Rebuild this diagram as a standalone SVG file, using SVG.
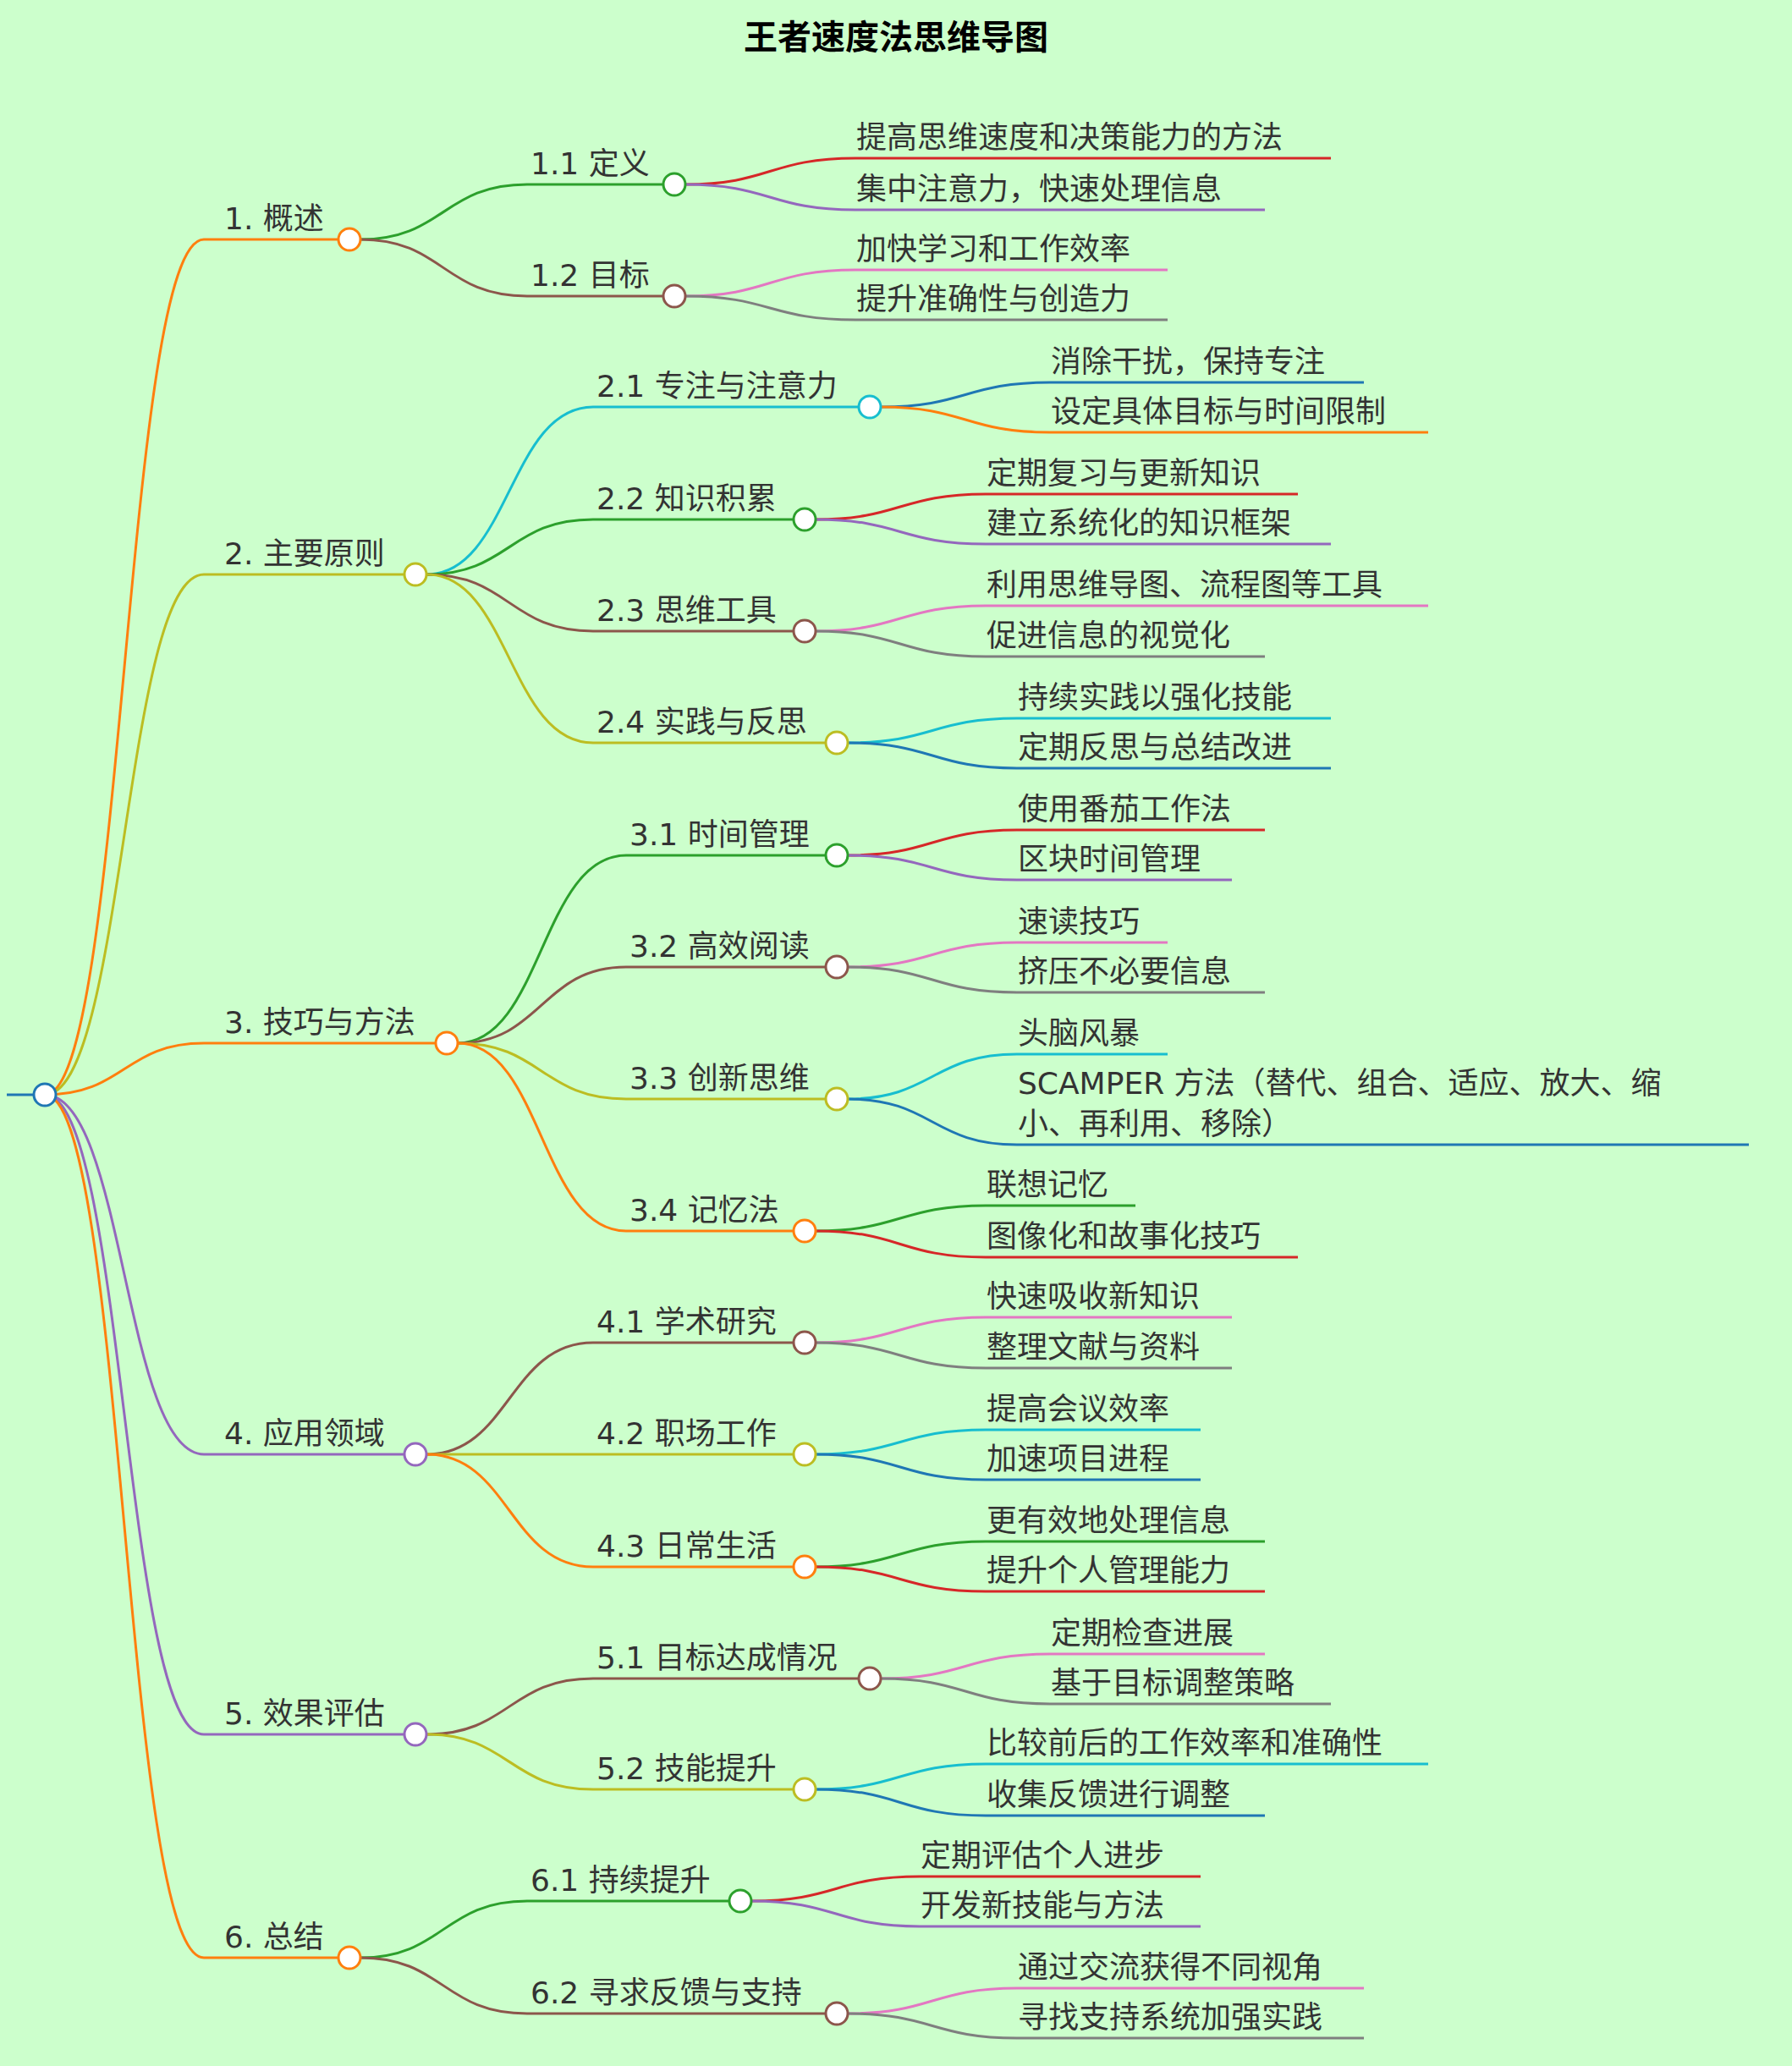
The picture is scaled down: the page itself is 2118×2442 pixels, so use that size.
<svg xmlns="http://www.w3.org/2000/svg" width="2118" height="2442" viewBox="0 0 2118 2442">
<style>
text{font-family:"DejaVu Sans","Noto Sans CJK SC",sans-serif;font-size:36px;fill:#333}
.t{font-family:"Noto Sans CJK SC",sans-serif;font-weight:bold;font-size:40px;fill:#000}
#links path{fill:none;stroke-width:3}
circle{fill:#fff;stroke-width:3}
.o{stroke:#ff7f0e}.y{stroke:#bcbd22}.g{stroke:#2ca02c}.b{stroke:#8c564b}.r{stroke:#d62728}.p{stroke:#9467bd}.k{stroke:#e377c2}.a{stroke:#7f7f7f}.c{stroke:#17becf}.u{stroke:#1f77b4}
</style>
<rect width="2118" height="2442" fill="#ccffcc"/>
<text class="t" x="1059" y="58" text-anchor="middle">王者速度法思维导图</text>
<g id="links">
<path class="u" d="M8,1294 L53,1294"/>
<path class="o" d="M53,1294 C147,1294 147,283 241,283 L400,283"/>
<path class="y" d="M53,1294 C147,1294 147,679 241,679 L478,679"/>
<path class="o" d="M53,1294 C147,1294 147,1233 241,1233 L515,1233"/>
<path class="p" d="M53,1294 C147,1294 147,1719 241,1719 L478,1719"/>
<path class="p" d="M53,1294 C147,1294 147,2050 241,2050 L478,2050"/>
<path class="o" d="M53,1294 C147,1294 147,2314 241,2314 L400,2314"/>
<path class="g" d="M426,283 C524,283 524,218 623,218 L784,218"/>
<path class="b" d="M426,283 C524,283 524,350 623,350 L784,350"/>
<path class="c" d="M504,679 C602,679 602,481 701,481 L1015,481"/>
<path class="g" d="M504,679 C602,679 602,614 701,614 L938,614"/>
<path class="b" d="M504,679 C602,679 602,746 701,746 L938,746"/>
<path class="y" d="M504,679 C602,679 602,878 701,878 L976,878"/>
<path class="g" d="M541,1233 C640,1233 640,1011 740,1011 L976,1011"/>
<path class="b" d="M541,1233 C640,1233 640,1143 740,1143 L976,1143"/>
<path class="y" d="M541,1233 C640,1233 640,1299 740,1299 L976,1299"/>
<path class="o" d="M541,1233 C640,1233 640,1455 740,1455 L938,1455"/>
<path class="b" d="M504,1719 C602,1719 602,1587 701,1587 L938,1587"/>
<path class="y" d="M504,1719 L938,1719"/>
<path class="o" d="M504,1719 C602,1719 602,1852 701,1852 L938,1852"/>
<path class="b" d="M504,2050 C602,2050 602,1984 701,1984 L1015,1984"/>
<path class="y" d="M504,2050 C602,2050 602,2115 701,2115 L938,2115"/>
<path class="g" d="M426,2314 C524,2314 524,2247 623,2247 L862,2247"/>
<path class="b" d="M426,2314 C524,2314 524,2380 623,2380 L976,2380"/>
<path class="r" d="M810,218 C910,218 910,187 1011,187 L1573,187"/>
<path class="p" d="M810,218 C910,218 910,248 1011,248 L1495,248"/>
<path class="k" d="M810,350 C910,350 910,319 1011,319 L1380,319"/>
<path class="a" d="M810,350 C910,350 910,378 1011,378 L1380,378"/>
<path class="u" d="M1041,481 C1141,481 1141,452 1241,452 L1612,452"/>
<path class="o" d="M1041,481 C1141,481 1141,511 1241,511 L1688,511"/>
<path class="r" d="M964,614 C1064,614 1064,584 1165,584 L1534,584"/>
<path class="p" d="M964,614 C1064,614 1064,643 1165,643 L1573,643"/>
<path class="k" d="M964,746 C1064,746 1064,716 1165,716 L1688,716"/>
<path class="a" d="M964,746 C1064,746 1064,776 1165,776 L1495,776"/>
<path class="c" d="M1002,878 C1102,878 1102,849 1202,849 L1573,849"/>
<path class="u" d="M1002,878 C1102,878 1102,908 1202,908 L1573,908"/>
<path class="r" d="M1002,1011 C1102,1011 1102,981 1202,981 L1495,981"/>
<path class="p" d="M1002,1011 C1102,1011 1102,1040 1202,1040 L1456,1040"/>
<path class="k" d="M1002,1143 C1102,1143 1102,1114 1202,1114 L1380,1114"/>
<path class="a" d="M1002,1143 C1102,1143 1102,1173 1202,1173 L1495,1173"/>
<path class="c" d="M1002,1299 C1102,1299 1102,1246 1202,1246 L1380,1246"/>
<path class="u" d="M1002,1299 C1102,1299 1102,1353 1202,1353 L2067,1353"/>
<path class="g" d="M964,1455 C1064,1455 1064,1425 1165,1425 L1342,1425"/>
<path class="r" d="M964,1455 C1064,1455 1064,1486 1165,1486 L1534,1486"/>
<path class="k" d="M964,1587 C1064,1587 1064,1557 1165,1557 L1456,1557"/>
<path class="a" d="M964,1587 C1064,1587 1064,1617 1165,1617 L1456,1617"/>
<path class="c" d="M964,1719 C1064,1719 1064,1690 1165,1690 L1419,1690"/>
<path class="u" d="M964,1719 C1064,1719 1064,1749 1165,1749 L1419,1749"/>
<path class="g" d="M964,1852 C1064,1852 1064,1822 1165,1822 L1495,1822"/>
<path class="r" d="M964,1852 C1064,1852 1064,1881 1165,1881 L1495,1881"/>
<path class="k" d="M1041,1984 C1141,1984 1141,1955 1241,1955 L1495,1955"/>
<path class="a" d="M1041,1984 C1141,1984 1141,2014 1241,2014 L1573,2014"/>
<path class="c" d="M964,2115 C1064,2115 1064,2085 1165,2085 L1688,2085"/>
<path class="u" d="M964,2115 C1064,2115 1064,2146 1165,2146 L1495,2146"/>
<path class="r" d="M888,2247 C988,2247 988,2218 1087,2218 L1419,2218"/>
<path class="p" d="M888,2247 C988,2247 988,2277 1087,2277 L1419,2277"/>
<path class="k" d="M1002,2380 C1102,2380 1102,2350 1202,2350 L1612,2350"/>
<path class="a" d="M1002,2380 C1102,2380 1102,2409 1202,2409 L1612,2409"/>
</g>
<g id="root"><circle class="u" cx="53" cy="1294" r="13"/></g>
<g id="n1"><text x="265" y="271">1. 概述</text><circle class="o" cx="413" cy="283" r="13"/></g>
<g id="n2"><text x="265" y="667">2. 主要原则</text><circle class="y" cx="491" cy="679" r="13"/></g>
<g id="n3"><text x="265" y="1221">3. 技巧与方法</text><circle class="o" cx="528" cy="1233" r="13"/></g>
<g id="n4"><text x="265" y="1707">4. 应用领域</text><circle class="p" cx="491" cy="1719" r="13"/></g>
<g id="n5"><text x="265" y="2038">5. 效果评估</text><circle class="p" cx="491" cy="2050" r="13"/></g>
<g id="n6"><text x="265" y="2302">6. 总结</text><circle class="o" cx="413" cy="2314" r="13"/></g>
<g id="n11"><text x="627" y="206">1.1 定义</text><circle class="g" cx="797" cy="218" r="13"/></g>
<g id="n12"><text x="627" y="338">1.2 目标</text><circle class="b" cx="797" cy="350" r="13"/></g>
<g id="n21"><text x="705" y="469">2.1 专注与注意力</text><circle class="c" cx="1028" cy="481" r="13"/></g>
<g id="n22"><text x="705" y="602">2.2 知识积累</text><circle class="g" cx="951" cy="614" r="13"/></g>
<g id="n23"><text x="705" y="734">2.3 思维工具</text><circle class="b" cx="951" cy="746" r="13"/></g>
<g id="n24"><text x="705" y="866">2.4 实践与反思</text><circle class="y" cx="989" cy="878" r="13"/></g>
<g id="n31"><text x="744" y="999">3.1 时间管理</text><circle class="g" cx="989" cy="1011" r="13"/></g>
<g id="n32"><text x="744" y="1131">3.2 高效阅读</text><circle class="b" cx="989" cy="1143" r="13"/></g>
<g id="n33"><text x="744" y="1287">3.3 创新思维</text><circle class="y" cx="989" cy="1299" r="13"/></g>
<g id="n34"><text x="744" y="1443">3.4 记忆法</text><circle class="o" cx="951" cy="1455" r="13"/></g>
<g id="n41"><text x="705" y="1575">4.1 学术研究</text><circle class="b" cx="951" cy="1587" r="13"/></g>
<g id="n42"><text x="705" y="1707">4.2 职场工作</text><circle class="y" cx="951" cy="1719" r="13"/></g>
<g id="n43"><text x="705" y="1840">4.3 日常生活</text><circle class="o" cx="951" cy="1852" r="13"/></g>
<g id="n51"><text x="705" y="1972">5.1 目标达成情况</text><circle class="b" cx="1028" cy="1984" r="13"/></g>
<g id="n52"><text x="705" y="2103">5.2 技能提升</text><circle class="y" cx="951" cy="2115" r="13"/></g>
<g id="n61"><text x="627" y="2235">6.1 持续提升</text><circle class="g" cx="875" cy="2247" r="13"/></g>
<g id="n62"><text x="627" y="2368">6.2 寻求反馈与支持</text><circle class="b" cx="989" cy="2380" r="13"/></g>
<g id="leaves">
<text x="1012" y="175">提高思维速度和决策能力的方法</text>
<text x="1012" y="236">集中注意力，快速处理信息</text>
<text x="1012" y="307">加快学习和工作效率</text>
<text x="1012" y="366">提升准确性与创造力</text>
<text x="1242" y="440">消除干扰，保持专注</text>
<text x="1242" y="499">设定具体目标与时间限制</text>
<text x="1166" y="572">定期复习与更新知识</text>
<text x="1166" y="631">建立系统化的知识框架</text>
<text x="1166" y="704">利用思维导图、流程图等工具</text>
<text x="1166" y="764">促进信息的视觉化</text>
<text x="1203" y="837">持续实践以强化技能</text>
<text x="1203" y="896">定期反思与总结改进</text>
<text x="1203" y="969">使用番茄工作法</text>
<text x="1203" y="1028">区块时间管理</text>
<text x="1203" y="1102">速读技巧</text>
<text x="1203" y="1161">挤压不必要信息</text>
<text x="1203" y="1234">头脑风暴</text>
<text x="1203" y="1293">SCAMPER 方法（替代、组合、适应、放大、缩</text>
<text x="1203" y="1341">小、再利用、移除）</text>
<text x="1166" y="1413">联想记忆</text>
<text x="1166" y="1474">图像化和故事化技巧</text>
<text x="1166" y="1545">快速吸收新知识</text>
<text x="1166" y="1605">整理文献与资料</text>
<text x="1166" y="1678">提高会议效率</text>
<text x="1166" y="1737">加速项目进程</text>
<text x="1166" y="1810">更有效地处理信息</text>
<text x="1166" y="1869">提升个人管理能力</text>
<text x="1242" y="1943">定期检查进展</text>
<text x="1242" y="2002">基于目标调整策略</text>
<text x="1166" y="2073">比较前后的工作效率和准确性</text>
<text x="1166" y="2134">收集反馈进行调整</text>
<text x="1088" y="2206">定期评估个人进步</text>
<text x="1088" y="2265">开发新技能与方法</text>
<text x="1203" y="2338">通过交流获得不同视角</text>
<text x="1203" y="2397">寻找支持系统加强实践</text>
</g>
</svg>
